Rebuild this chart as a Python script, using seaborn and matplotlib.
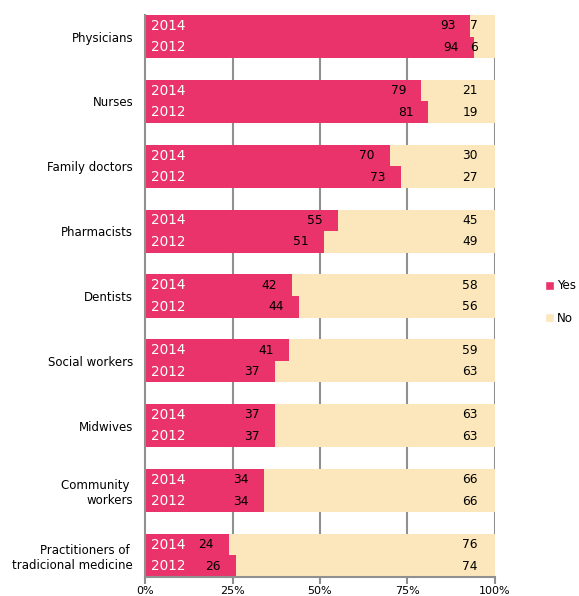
import matplotlib
matplotlib.use("Agg")
import matplotlib.pyplot as plt
import seaborn as sns
import pandas as pd
import numpy as np
from matplotlib.patches import Patch

categories = ["Physicians", "Nurses", "Family doctors", "Pharmacists", "Dentists",
              "Social workers", "Midwives", "Community \nworkers",
              "Practitioners of \ntradicional medicine"]
years = ["2014", "2012"]
yes_2014 = [93, 79, 70, 55, 42, 41, 37, 34, 24]
no_2014 = [7, 21, 30, 45, 58, 59, 63, 66, 76]
yes_2012 = [94, 81, 73, 51, 44, 37, 37, 34, 26]
no_2012 = [6, 19, 27, 49, 56, 63, 63, 66, 74]
xticks = [0, 25, 50, 75, 100]
xtick_labels = ["0%", "25%", "50%", "75%", "100%"]

PINK = "#E9336A"
BEIGE = "#FBE7BB"
GRID = "#909090"

rows = []
for i, c in enumerate(categories):
    rows.append(dict(cat=c, year="2014", pos=3 * i, yes=yes_2014[i], no=no_2014[i]))
    rows.append(dict(cat=c, year="2012", pos=3 * i + 1, yes=yes_2012[i], no=no_2012[i]))
df = pd.DataFrame(rows)
df["total"] = df["yes"] + df["no"]

sns.set_theme(style="white")
plt.rcParams["font.family"] = ["DejaVu Sans"]
plt.rcParams["text.color"] = "black"
plt.rcParams["xtick.color"] = "black"
plt.rcParams["ytick.color"] = "black"

fig = plt.figure(figsize=(5.79, 5.96), dpi=100)
ax = fig.add_axes([145 / 579, 1 - 577 / 596, 350 / 579, 562 / 596])

sns.barplot(data=df, x="total", y="pos", orient="h", native_scale=True,
            color=BEIGE, saturation=1, width=1.0, ax=ax, zorder=2, errorbar=None,
            linewidth=0, edgecolor=BEIGE)
sns.barplot(data=df, x="yes", y="pos", orient="h", native_scale=True,
            color=PINK, saturation=1, width=1.0, ax=ax, zorder=3, errorbar=None,
            linewidth=0, edgecolor=PINK)

ax.set_xlim(0, 100)
ax.set_ylim(3 * len(categories) - 2 + 0.5, -0.5)

for x in xticks[1:]:
    ax.axvline(x, color=GRID, lw=1.5, zorder=1)

for _, r in df.iterrows():
    ax.annotate(r["year"], xy=(0, r["pos"]), xytext=(6, 0), textcoords="offset pixels",
                ha="left", va="center", color="white", fontsize=9.8, zorder=5)
    ax.annotate(str(r["yes"]), xy=(r["yes"], r["pos"]), xytext=(-15, 0),
                textcoords="offset pixels", ha="right", va="center",
                color="black", fontsize=8.8, zorder=5)
    ax.annotate(str(r["no"]), xy=(100, r["pos"]), xytext=(-17, 0),
                textcoords="offset pixels", ha="right", va="center",
                color="black", fontsize=8.8, zorder=5)

ax.set_yticks([3 * i + 0.5 for i in range(len(categories))])
ax.set_yticklabels(categories, fontsize=8.5, multialignment="right", color="black")
ax.tick_params(axis="y", length=0, pad=8.5)
ax.set_xticks(xticks)
ax.set_xticklabels(xtick_labels, fontsize=8, color="black")
ax.tick_params(axis="x", length=5, width=1.5, color=GRID, pad=1.5, direction="out")
ax.xaxis.set_ticks_position("bottom")
ax.set_xlabel("")
ax.set_ylabel("")

for s in ["top", "right"]:
    ax.spines[s].set_visible(False)
for s in ["left", "bottom"]:
    ax.spines[s].set_color(GRID)
    ax.spines[s].set_linewidth(1.5)
    ax.spines[s].set_zorder(4)

handles = [Patch(facecolor=PINK, label="Yes"), Patch(facecolor=BEIGE, label="No")]
fig.legend(handles=handles, loc="center left", bbox_to_anchor=(545 / 579, 1 - 302 / 596),
           frameon=False, fontsize=8.6, handlelength=0.75, handleheight=0.75,
           handletextpad=0.25, labelspacing=1.6, borderaxespad=0, borderpad=0)

fig.savefig("out.png", dpi=100)
